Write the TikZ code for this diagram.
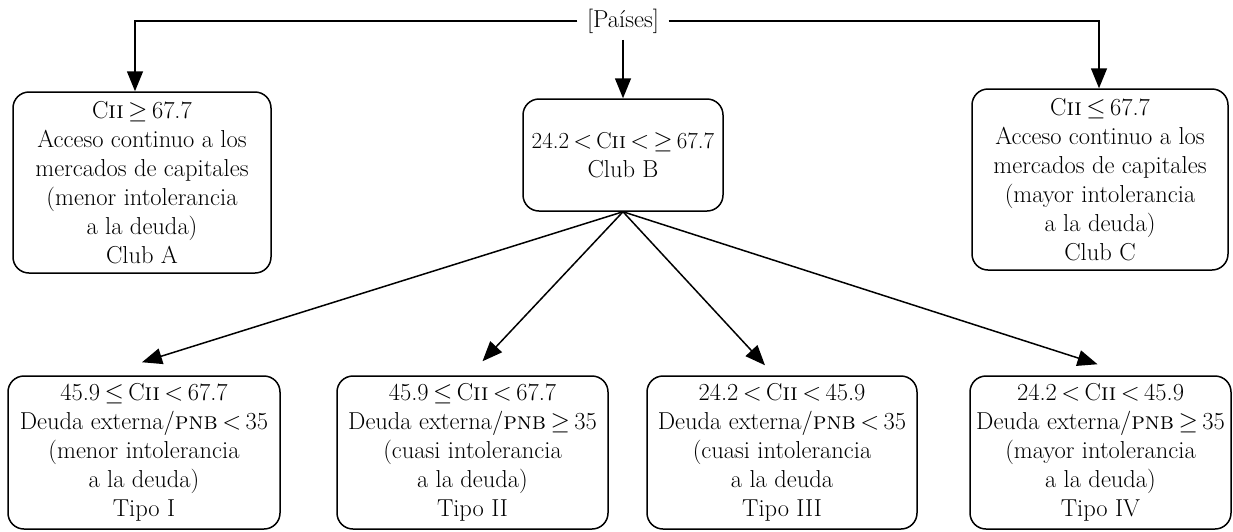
\documentclass[tikz,border=0pt]{standalone}
\usepackage{amsmath,amssymb}
\usepackage{tikz}
\usetikzlibrary{arrows.meta}
\tikzset{every node/.append style={font=\fontsize{24.5}{29}\selectfont}}
\tikzset{clubbox/.style={draw,rounded corners=16pt,line width=1.5pt,align=center,inner sep=0pt}}
\newcommand{\cii}{C\textsc{ii}}
\newcommand{\pnb}{\textsc{pnb}}
\newcommand{\rel}[1]{\kern.18em$#1$\kern.18em}

\begin{document}
\begin{tikzpicture}[x=1pt,y=-1pt,>={Triangle[length=20pt,width=16pt]},line width=1.5pt]
\useasboundingbox (0,0) rectangle (1233,531);
\node[inner xsep=9pt,inner ysep=6pt] (paises) at (623,21) {[Países]};
\node[clubbox,minimum width=258pt,minimum height=181pt] (clubA) at (142,182.5)
  {\cii\rel{\geq}67.7\\Acceso continuo a los\\mercados de capitales\\(menor intolerancia\\a la deuda)\\Club A};
\node[clubbox,minimum width=200pt,minimum height=112pt] (clubB) at (623,155)
  {{\fontsize{23}{29}\selectfont 24.2\rel{<}\cii\rel{<}$\geq$\kern.18em67.7}\\Club B};
\node[clubbox,minimum width=256pt,minimum height=181pt] (clubC) at (1100,179.5)
  {\cii\rel{\leq}67.7\\Acceso continuo a los\\mercados de capitales\\(mayor intolerancia\\a la deuda)\\Club C};
\node[clubbox,minimum width=272pt,minimum height=153pt] (tipoI) at (144,452.5)
  {45.9\rel{\leq}\cii\rel{<}67.7\\Deuda externa/\pnb\rel{<}35\\(menor intolerancia\\a la deuda)\\Tipo I};
\node[clubbox,minimum width=271pt,minimum height=153pt] (tipoII) at (472.5,452.5)
  {45.9\rel{\leq}\cii\rel{<}67.7\\Deuda externa/\pnb\rel{\geq}35\\(cuasi intolerancia\\a la deuda)\\Tipo II};
\node[clubbox,minimum width=270pt,minimum height=153pt] (tipoIII) at (782,452.5)
  {24.2\rel{<}\cii\rel{<}45.9\\Deuda externa/\pnb\rel{<}35\\(cuasi intolerancia\\a la deuda\\Tipo III};
\node[clubbox,minimum width=261pt,minimum height=153pt] (tipoIV) at (1100.5,452.5)
  {24.2\rel{<}\cii\rel{<}45.9\\Deuda externa/\pnb\rel{\geq}35\\(mayor intolerancia\\a la deuda)\\Tipo IV};
% from the countries to the three clubs
\draw[->] (paises.west) -| ([xshift=-7pt]clubA.north);
\draw[->] (paises.east) -| ([xshift=-1pt]clubC.north);
\draw[->] (paises.south) -- (clubB.north);
% club B splits in four types
\draw[->] (clubB.south) -- ([xshift=-2pt,yshift=13pt]tipoI.north);
\draw[->] (clubB.south) -- ([xshift=10pt,yshift=14pt]tipoII.north);
\draw[->] (clubB.south) -- ([xshift=-17pt,yshift=10pt]tipoIII.north);
\draw[->] (clubB.south) -- ([xshift=-3pt,yshift=11pt]tipoIV.north);
\end{tikzpicture}
\end{document}
